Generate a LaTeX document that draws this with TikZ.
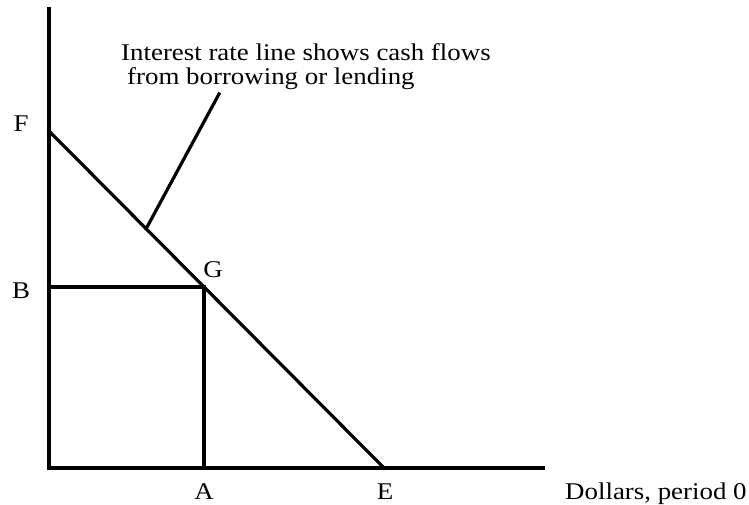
\documentclass[tikz,border=0pt]{standalone}
\usepackage{fontspec}
\setmainfont[FakeStretch=1.12]{Liberation Serif}
\usetikzlibrary{positioning, calc}
\tikzset{
  axisline/.style={draw=black, line width=3.2pt, line cap=rect},
  lbl/.style={font=\fontsize{24}{24}\selectfont, inner sep=0pt, anchor=base},
  note/.style={font=\fontsize{24}{24}\selectfont, align=left, inner sep=0pt, anchor=north west}
}
\begin{document}
\begin{tikzpicture}[x=1pt, y=-1pt]
\useasboundingbox (0,0) rectangle (749,505);
% axes and the interest rate line
\coordinate (O) at (49,468);
\coordinate (ytop) at (49,9);
\coordinate (xend) at (543,468);
\coordinate (F) at (49,131);
\coordinate (E) at (384,468);
\coordinate (G) at (204,287);
\coordinate (B) at (49,287);
\coordinate (A) at (204,468);
\draw[axisline] (ytop) -- (O) -- (xend);
\draw[axisline] (F) -- (E);
\draw[axisline] (B) -- (G) -- (A);
% pointer to the line
\node[note] (txt) at (121,43.6) {Interest rate line shows cash flows\\\hspace*{0.25em}from borrowing or lending};
\coordinate (tip) at (219,94);
\draw[axisline] ($(F)!0.29!(E)$) -- (tip);
% labels
\node[lbl] (Flbl) at (21,132) {F};
\node[lbl] (Blbl) at (21,298) {B};
\node[lbl] (Glbl) at (213,277) {G};
\node[lbl] (Albl) at (204,499) {A};
\node[lbl] (Elbl) at (385,499) {E};
\node[lbl, anchor=base west] (xlbl) at (565,499) {Dollars, period 0};
\end{tikzpicture}
\end{document}
